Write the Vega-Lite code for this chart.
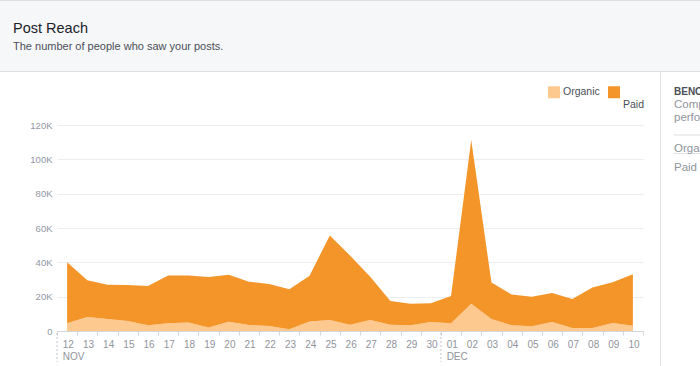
{
  "$schema": "https://vega.github.io/schema/vega-lite/v6.json",
  "width": 700,
  "height": 366,
  "autosize": "none",
  "padding": 0,
  "background": "white",
  "config": {"view": {"stroke": null}, "font": "Liberation Sans"},
  "title": {
    "text": "Post Reach",
    "subtitle": "The number of people who saw your posts.",
    "anchor": "start",
    "frame": "group",
    "orient": "top",
    "offset": -53,
    "dx": 13,
    "fontSize": 14.5,
    "fontWeight": "normal",
    "color": "#1d2129",
    "subtitleFontSize": 11,
    "subtitleColor": "#4b4f56",
    "subtitlePadding": 5,
    "font": "Liberation Sans",
    "subtitleFont": "Liberation Sans"
  },
  "layer": [
    {
      "data": {"values": [{"part": "header"}]},
      "mark": {"type": "rect", "fill": "#f6f7f9", "stroke": "#dddfe2", "strokeWidth": 1},
      "encoding": {
        "x": {"field": "part", "type": "nominal", "scale": {"type": "band", "range": [-2, 702], "paddingInner": 0, "paddingOuter": 0}, "axis": null},
        "y": {"field": "part", "type": "nominal", "scale": {"type": "band", "range": [0.5, 71.5], "paddingInner": 0, "paddingOuter": 0}, "axis": null}
      }
    },
    {
      "data": {"values": [{"part": "side"}]},
      "mark": {"type": "rect", "fill": "white", "stroke": "#dddfe2", "strokeWidth": 1},
      "encoding": {
        "x": {"field": "part", "type": "nominal", "scale": {"type": "band", "range": [660.5, 760], "paddingInner": 0, "paddingOuter": 0}, "axis": null},
        "y": {"field": "part", "type": "nominal", "scale": {"type": "band", "range": [71.5, 420], "paddingInner": 0, "paddingOuter": 0}, "axis": null}
      }
    },
    {
      "data": {"values": [
        {"t": "BENCHMARK", "slot": "s0", "kind": "head"},
        {"t": "Compare your", "slot": "s2", "kind": "text"},
        {"t": "performance", "slot": "s4", "kind": "text"},
        {"t": "", "slot": "s7", "kind": "sep"},
        {"t": "Organic", "slot": "s9", "kind": "text"},
        {"t": "", "slot": "s10", "kind": "sep"},
        {"t": "Paid", "slot": "s12", "kind": "text"}
      ]},
      "encoding": {
        "y": {"field": "slot", "type": "ordinal", "scale": {"type": "point", "domain": ["s0","s1","s2","s3","s4","s5","s6","s7","s8","s9","s10","s11","s12"], "range": [91.5, 166], "padding": 0}, "axis": null},
        "x": {"datum": 0, "type": "quantitative", "scale": {"domain": [0, 1], "range": [674, 720]}, "axis": null}
      },
      "layer": [
        {"transform": [{"filter": "datum.kind == 'sep'"}], "mark": {"type": "rule", "color": "#dddfe2", "strokeWidth": 1}, "encoding": {"x2": {"datum": 1}}},
        {"transform": [{"filter": "datum.kind == 'head'"}], "mark": {"type": "text", "align": "left", "baseline": "middle", "fontSize": 10, "fontWeight": "bold", "color": "#4b4f56"}, "encoding": {"text": {"field": "t"}}},
        {"transform": [{"filter": "datum.kind == 'text'"}], "mark": {"type": "text", "align": "left", "baseline": "middle", "fontSize": 11.5, "color": "#90949c", "dy": 1.5}, "encoding": {"text": {"field": "t"}}}
      ]
    },
    {
      "layer": [
        {
          "data": {"values": [
            {"date": "2015-11-12T00:00:00", "Organic": 4500, "Paid": 35500},
            {"date": "2015-11-13T00:00:00", "Organic": 8200, "Paid": 21300},
            {"date": "2015-11-14T00:00:00", "Organic": 7000, "Paid": 20000},
            {"date": "2015-11-15T00:00:00", "Organic": 5800, "Paid": 21000},
            {"date": "2015-11-16T00:00:00", "Organic": 3300, "Paid": 22900},
            {"date": "2015-11-17T00:00:00", "Organic": 4500, "Paid": 27900},
            {"date": "2015-11-18T00:00:00", "Organic": 4900, "Paid": 27500},
            {"date": "2015-11-19T00:00:00", "Organic": 2100, "Paid": 29400},
            {"date": "2015-11-20T00:00:00", "Organic": 5400, "Paid": 27400},
            {"date": "2015-11-21T00:00:00", "Organic": 3500, "Paid": 25200},
            {"date": "2015-11-22T00:00:00", "Organic": 2900, "Paid": 24500},
            {"date": "2015-11-23T00:00:00", "Organic": 1000, "Paid": 23300},
            {"date": "2015-11-24T00:00:00", "Organic": 5600, "Paid": 26600},
            {"date": "2015-11-25T00:00:00", "Organic": 6400, "Paid": 49300},
            {"date": "2015-11-26T00:00:00", "Organic": 3700, "Paid": 40300},
            {"date": "2015-11-27T00:00:00", "Organic": 6400, "Paid": 25200},
            {"date": "2015-11-28T00:00:00", "Organic": 3700, "Paid": 13800},
            {"date": "2015-11-29T00:00:00", "Organic": 3300, "Paid": 12600},
            {"date": "2015-11-30T00:00:00", "Organic": 5200, "Paid": 10900},
            {"date": "2015-12-01T00:00:00", "Organic": 4500, "Paid": 15900},
            {"date": "2015-12-02T00:00:00", "Organic": 15900, "Paid": 95300},
            {"date": "2015-12-03T00:00:00", "Organic": 7000, "Paid": 21200},
            {"date": "2015-12-04T00:00:00", "Organic": 3300, "Paid": 17900},
            {"date": "2015-12-05T00:00:00", "Organic": 2700, "Paid": 17300},
            {"date": "2015-12-06T00:00:00", "Organic": 5200, "Paid": 16900},
            {"date": "2015-12-07T00:00:00", "Organic": 1700, "Paid": 16900},
            {"date": "2015-12-08T00:00:00", "Organic": 1700, "Paid": 23700},
            {"date": "2015-12-09T00:00:00", "Organic": 4700, "Paid": 23700},
            {"date": "2015-12-10T00:00:00", "Organic": 3100, "Paid": 29900}
          ]},
          "transform": [{"fold": ["Organic", "Paid"], "as": ["type", "reach"]}],
          "mark": {"type": "area", "opacity": 1},
          "encoding": {
            "x": {
              "field": "date", "type": "temporal",
              "scale": {"domain": [{"year": 2015, "month": 11, "date": 11, "hours": 12}, {"year": 2015, "month": 12, "date": 10, "hours": 12}], "range": [57, 643]},
              "axis": {
                "orient": "bottom", "offset": -35, "title": null, "grid": false,
                "tickCount": 60,
                "values": [
                  {"year": 2015, "month": 11, "date": 11, "hours": 12},
                  {"year": 2015, "month": 11, "date": 12, "hours": 12},
                  {"year": 2015, "month": 11, "date": 13, "hours": 12},
                  {"year": 2015, "month": 11, "date": 14, "hours": 12},
                  {"year": 2015, "month": 11, "date": 15, "hours": 12},
                  {"year": 2015, "month": 11, "date": 16, "hours": 12},
                  {"year": 2015, "month": 11, "date": 17, "hours": 12},
                  {"year": 2015, "month": 11, "date": 18, "hours": 12},
                  {"year": 2015, "month": 11, "date": 19, "hours": 12},
                  {"year": 2015, "month": 11, "date": 20, "hours": 12},
                  {"year": 2015, "month": 11, "date": 21, "hours": 12},
                  {"year": 2015, "month": 11, "date": 22, "hours": 12},
                  {"year": 2015, "month": 11, "date": 23, "hours": 12},
                  {"year": 2015, "month": 11, "date": 24, "hours": 12},
                  {"year": 2015, "month": 11, "date": 25, "hours": 12},
                  {"year": 2015, "month": 11, "date": 26, "hours": 12},
                  {"year": 2015, "month": 11, "date": 27, "hours": 12},
                  {"year": 2015, "month": 11, "date": 28, "hours": 12},
                  {"year": 2015, "month": 11, "date": 29, "hours": 12},
                  {"year": 2015, "month": 11, "date": 30, "hours": 12},
                  {"year": 2015, "month": 12, "date": 1, "hours": 12},
                  {"year": 2015, "month": 12, "date": 2, "hours": 12},
                  {"year": 2015, "month": 12, "date": 3, "hours": 12},
                  {"year": 2015, "month": 12, "date": 4, "hours": 12},
                  {"year": 2015, "month": 12, "date": 5, "hours": 12},
                  {"year": 2015, "month": 12, "date": 6, "hours": 12},
                  {"year": 2015, "month": 12, "date": 7, "hours": 12},
                  {"year": 2015, "month": 12, "date": 8, "hours": 12},
                  {"year": 2015, "month": 12, "date": 9, "hours": 12},
                  {"year": 2015, "month": 12, "date": 10, "hours": 12}
                ],
                "labelExpr": "date(time(datum.value) + 43200000) == 12 && month(time(datum.value) + 43200000) == 10 ? ['12', 'NOV'] : (date(time(datum.value) + 43200000) == 1 ? ['01', 'DEC'] : (month(time(datum.value) + 43200000) == 11 && date(time(datum.value) + 43200000) == 11 ? '' : timeFormat(time(datum.value) + 43200000, '%d')))",
                "domain": true, "domainColor": "#d3d6db", "domainWidth": 1,
                "ticks": true, "tickColor": "#d3d6db", "tickSize": 4, "tickWidth": 1,
                "labelOffset": 5.2, "labelAlign": "left", "labelBaseline": "top", "labelPadding": 4,
                "labelFontSize": 10, "labelColor": "#90949c", "labelLineHeight": 12,
                "labelFlush": false, "labelOverlap": false, "labelBound": false
              }
            },
            "y": {
              "field": "reach", "type": "quantitative", "stack": "zero",
              "scale": {"domain": [0, 120000], "range": [331, 125], "nice": false},
              "axis": {
                "orient": "left", "offset": -57, "title": null,
                "values": [0, 20000, 40000, 60000, 80000, 100000, 120000],
                "domain": false, "ticks": false, "tickSize": 0,
                "grid": true, "gridColor": "#ebedf0", "gridWidth": 1,
                "labelExpr": "datum.value == 0 ? '0' : format(datum.value / 1000, 'd') + 'K'",
                "labelFontSize": 9.5, "labelColor": "#9197a3", "labelPadding": 5
              }
            },
            "color": {
              "field": "type", "type": "nominal",
              "scale": {"domain": ["Organic", "Paid"], "range": ["#fdc98f", "#f4952a"]},
              "legend": {
                "orient": "none", "legendX": 548, "legendY": 86, "direction": "horizontal",
                "title": null, "symbolType": "square", "symbolSize": 144, "symbolStrokeWidth": 0,
                "symbolOpacity": 1, "labelFontSize": 10.5, "labelColor": "#4b4f56",
                "labelOffset": 3, "columnPadding": 8, "padding": 0,
                "labelLineHeight": 12, "labelBaseline": "middle",
                "labelExpr": "datum.label == 'Paid' ? ['\u00a0', '\u00a0', 'Paid'] : [datum.label, '\u00a0', '\u00a0']"
              }
            },
            "order": {"field": "type", "sort": "ascending"}
          }
        },
        {
          "data": {"values": [{"month": "NOV", "start": "2015-11-12T00:00:00"}, {"month": "DEC", "start": "2015-12-01T00:00:00"}]},
          "mark": {"type": "rule", "strokeDash": [2, 2], "color": "#bec2c9", "strokeWidth": 1, "xOffset": -10.1},
          "encoding": {
            "x": {"field": "start", "type": "temporal"},
            "y": {"datum": -1200, "type": "quantitative"},
            "y2": {"datum": -18000}
          }
        }
      ]
    }
  ],
  "resolve": {"scale": {"x": "independent", "y": "independent"}, "axis": {"x": "independent", "y": "independent"}}
}
